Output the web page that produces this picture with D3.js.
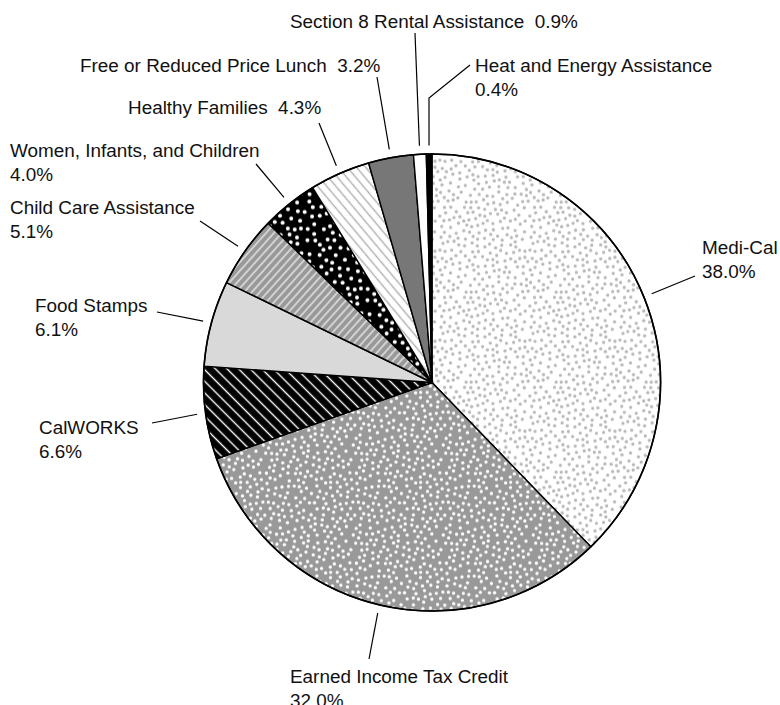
<!DOCTYPE html>
<html><head><meta charset="utf-8">
<script src="https://cdn.jsdelivr.net/npm/d3@7"></script>
<style>
html,body{margin:0;padding:0;background:#fff;}
svg{display:block;}
text{font-family:"Liberation Sans",Arial,Helvetica,sans-serif;font-size:18.9px;fill:#111;white-space:pre;}
</style></head>
<body>
<svg id="chart" width="780" height="705"></svg>
<script>
// ---- data ----
const categories = ["Medi-Cal","Earned Income Tax Credit","CalWORKS","Food Stamps","Child Care Assistance",
  "Women, Infants, and Children","Healthy Families","Free or Reduced Price Lunch","Section 8 Rental Assistance","Heat and Energy Assistance"];
const values = [38.0, 32.0, 6.6, 6.1, 5.1, 4.0, 4.3, 3.2, 0.9, 0.4];
const valueLabels = ["38.0%","32.0%","6.6%","6.1%","5.1%","4.0%","4.3%","3.2%","0.9%","0.4%"];
// label layout: text lines, anchor point, leader elbows
const labelLayout = [
  {lines:["Medi-Cal","38.0%"], x:702, y:254, pts:[[695,276]]},
  {lines:["Earned Income Tax Credit","32.0%"], x:290, y:683, pts:[[369,659]]},
  {lines:["CalWORKS","6.6%"], x:39, y:434, pts:[[152,423]]},
  {lines:["Food Stamps","6.1%"], x:35, y:312, pts:[[157,312]]},
  {lines:["Child Care Assistance","5.1%"], x:10, y:214, pts:[[200,221]]},
  {lines:["Women, Infants, and Children","4.0%"], x:10, y:157, pts:[[256,164]]},
  {lines:["Healthy Families  4.3%"], x:128, y:114, pts:[[319,123]]},
  {lines:["Free or Reduced Price Lunch  3.2%"], x:80, y:72, pts:[[377,77]]},
  {lines:["Section 8 Rental Assistance  0.9%"], x:290, y:28, pts:[[415,33]]},
  {lines:["Heat and Energy Assistance","0.4%"], x:475, y:72, pts:[[470,65],[429,98]]}
];
const fills = ["url(#pDotsLight)","url(#pDotsGray)","url(#pHatchBlack)","#d9d9d9","url(#pHatchGray)",
  "url(#pDotsBlack)","url(#pHatchWhite)","#777777","#ffffff","#000000"];

const svg = d3.select("#chart");
const defs = svg.append("defs");

// seeded PRNG for pattern texture
function lcg(seed){let s=seed>>>0;return ()=>{s=(s*1664525+1013904223)>>>0;return s/4294967296;};}
function dotPattern(id, size, bg, fg, r, minD, n, seed){
  const p = defs.append("pattern").attr("id",id).attr("patternUnits","userSpaceOnUse")
    .attr("width",size).attr("height",size);
  p.append("rect").attr("width",size).attr("height",size).attr("fill",bg);
  const rnd = lcg(seed); const pts=[];
  let tries=0;
  while(pts.length<n && tries<20000){
    tries++;
    const x=rnd()*size, y=rnd()*size;
    let ok=true;
    for(const q of pts){let dx=Math.abs(q[0]-x),dy=Math.abs(q[1]-y);dx=Math.min(dx,size-dx);dy=Math.min(dy,size-dy);
      if(dx*dx+dy*dy<minD*minD){ok=false;break;}}
    if(ok)pts.push([x,y]);
  }
  for(const [x,y] of pts){
    for(const ox of [-size,0,size]) for(const oy of [-size,0,size]){
      const cx=x+ox, cy=y+oy;
      if(cx>-r&&cx<size+r&&cy>-r&&cy<size+r)
        p.append("circle").attr("cx",cx).attr("cy",cy).attr("r",r).attr("fill",fg);
    }
  }
}
function hatch(id, spacing, angle, bg, fg, w){
  const p = defs.append("pattern").attr("id",id).attr("patternUnits","userSpaceOnUse")
    .attr("width",spacing).attr("height",spacing).attr("patternTransform",`rotate(${angle})`);
  p.append("rect").attr("width",spacing).attr("height",spacing).attr("fill",bg);
  p.append("line").attr("x1",spacing/2).attr("x2",spacing/2).attr("y1",-1).attr("y2",spacing+1)
    .attr("stroke",fg).attr("stroke-width",w);
}
dotPattern("pDotsLight", 90, "#ffffff", "#b8b8b8", 1.65, 5.0, 175, 7);
dotPattern("pDotsGray", 90, "#999999", "#ffffff", 1.65, 5.0, 175, 13);
dotPattern("pDotsBlack", 60, "#000000", "#ffffff", 2.0, 6.2, 48, 21);
hatch("pHatchBlack", 8.2, -45, "#000000", "#ffffff", 1.4);
hatch("pHatchGray", 5.8, 42, "#999999", "#ffffff", 1.1);
hatch("pHatchWhite", 7, -40, "#ffffff", "#b0b0b0", 1.4);

const cx=432, cy=382.5, R=228.5;
const pie = d3.pie().sort(null).value(d=>d)(values);
const arc = d3.arc().innerRadius(0).outerRadius(R);
const g = svg.append("g").attr("transform",`translate(${cx},${cy})`);
g.selectAll("path.slice").data(pie).join("path").attr("class","slice")
  .attr("d",arc).attr("fill",(d,i)=>fills[i]).attr("stroke","#000").attr("stroke-width",1.4)
  .attr("stroke-linejoin","round");
g.append("circle").attr("r",R).attr("fill","none").attr("stroke","#000").attr("stroke-width",1.6);

// leader lines
const lineR = R+8.5;
pie.forEach((d,i)=>{
  const a=(d.startAngle+d.endAngle)/2;
  const inner=[cx+lineR*Math.sin(a), cy-lineR*Math.cos(a)];
  const pts = labelLayout[i].pts.concat([inner]);
  svg.append("path").attr("d",d3.line()(pts)).attr("fill","none").attr("stroke","#000").attr("stroke-width",1.2);
});
// labels
labelLayout.forEach((L,i)=>{
  const t=svg.append("text").attr("x",L.x).attr("y",L.y);
  L.lines.forEach((s,k)=>t.append("tspan").attr("x",L.x).attr("dy",k?23.5:0).text(s));
});
</script>
</body></html>
